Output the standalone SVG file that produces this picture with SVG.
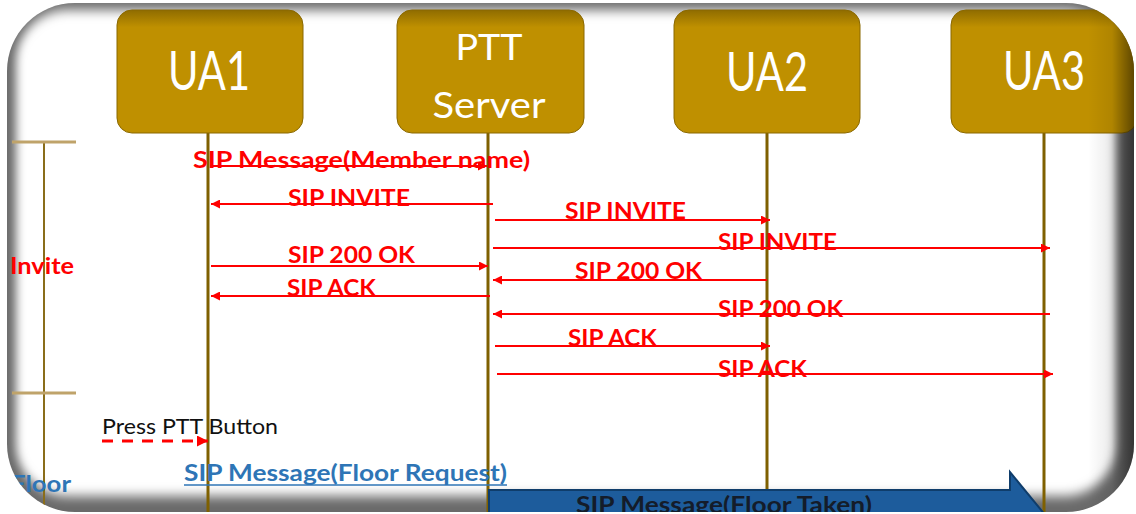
<svg xmlns="http://www.w3.org/2000/svg" width="1136" height="514" viewBox="0 0 1136 514">
  <style>
    .box { fill: url(#gold); stroke: #8a6800; stroke-width: 1; }
    .ntext { fill: #ffffff; font-family: Lato, "Open Sans", sans-serif; text-anchor: middle; }
    .life { stroke: #7f6000; stroke-width: 3; fill: none; }
    .msg { stroke: #ff0000; stroke-width: 2; fill: none; }
    .lbl { fill: #ff0000; font-family: Lato, "Open Sans", sans-serif; font-weight: bold; font-size: 23px; }
    .blue { fill: #2e75b6; font-family: Lato, "Open Sans", sans-serif; font-weight: bold; font-size: 23px; }
    .phase { stroke: #bfa36a; stroke-width: 3; }
    .phasev { stroke: #8a6d1a; stroke-width: 2; }
  </style>
  <defs>
    <clipPath id="frameClip">
      <rect x="7" y="3" width="1127" height="509" rx="68" ry="68"/>
    </clipPath>
    <filter id="soft" filterUnits="userSpaceOnUse" x="0" y="0" width="1136" height="514">
      <feGaussianBlur stdDeviation="5 6"/>
    </filter>
    <linearGradient id="gold" x1="0" y1="0" x2="0" y2="1">
      <stop offset="0" stop-color="#8f6c00"/>
      <stop offset="0.14" stop-color="#bf9000"/>
      <stop offset="1" stop-color="#bf9000"/>
    </linearGradient>
    <linearGradient id="rightShade" x1="0" y1="0" x2="1" y2="0">
      <stop offset="0" stop-color="#000" stop-opacity="0"/>
      <stop offset="0.5" stop-color="#000" stop-opacity="0.08"/>
      <stop offset="1" stop-color="#000" stop-opacity="0.55"/>
    </linearGradient>
    <marker id="ah" viewBox="0 0 10 10" refX="10" refY="5" markerWidth="9" markerHeight="9" markerUnits="userSpaceOnUse" orient="auto">
      <path d="M0,0 L10,5 L0,10 Z" fill="#ff0000"/>
    </marker>
    <marker id="ahd" viewBox="0 0 10 10" refX="10" refY="5" markerWidth="11" markerHeight="11" markerUnits="userSpaceOnUse" orient="auto">
      <path d="M0,0 L10,5 L0,10 Z" fill="#ff0000"/>
    </marker>
  </defs>

  <rect width="1136" height="514" fill="#ffffff"/>

  <g clip-path="url(#frameClip)">
    <!-- pillow-shaded panel -->
    <rect x="0" y="0" width="1136" height="514" fill="#6a6a6a"/>
    <rect x="16" y="10" width="1100" height="486" rx="52" fill="#ffffff" filter="url(#soft)"/>

    <!-- phase brackets -->
    <g id="phases">
      <line class="phasev" x1="44" y1="142" x2="44" y2="514"/>
      <line class="phase" x1="12" y1="142" x2="76" y2="142"/>
      <line class="phase" x1="12" y1="393" x2="76" y2="393"/>
      <text class="lbl" x="10" y="274" textLength="64" lengthAdjust="spacingAndGlyphs">Invite</text>
      <text class="blue" x="11" y="492" textLength="60" lengthAdjust="spacingAndGlyphs">Floor</text>
    </g>

    <!-- lifelines -->
    <g id="lifelines">
      <line class="life" x1="208" y1="133" x2="208" y2="514"/>
      <line class="life" x1="488" y1="133" x2="488" y2="514"/>
      <line class="life" x1="767" y1="133" x2="767" y2="514"/>
      <line class="life" x1="1044" y1="133" x2="1044" y2="514"/>
    </g>

    <!-- participants -->
    <g id="ua1">
      <rect class="box" x="117" y="10" width="186" height="123" rx="15"/>
      <text class="ntext" x="209" y="90" font-size="54" textLength="82" lengthAdjust="spacingAndGlyphs">UA1</text>
    </g>
    <g id="ptt-server">
      <rect class="box" x="397" y="10" width="187" height="123" rx="15"/>
      <text class="ntext" x="489" y="60" font-size="37" textLength="67" lengthAdjust="spacingAndGlyphs">PTT</text>
      <text class="ntext" x="489" y="118" font-size="37" textLength="113" lengthAdjust="spacingAndGlyphs">Server</text>
    </g>
    <g id="ua2">
      <rect class="box" x="674" y="10" width="186" height="123" rx="15"/>
      <text class="ntext" x="767" y="91" font-size="54" textLength="82" lengthAdjust="spacingAndGlyphs">UA2</text>
    </g>
    <g id="ua3">
      <rect class="box" x="951" y="10" width="186" height="123" rx="15"/>
      <text class="ntext" x="1044" y="90" font-size="54" textLength="82" lengthAdjust="spacingAndGlyphs">UA3</text>
    </g>

    <!-- signalling messages -->
    <g id="connectors">
      <line class="msg" x1="210" y1="166" x2="487" y2="166" marker-end="url(#ah)"/>
      <line class="msg" x1="493" y1="204" x2="211" y2="204" marker-end="url(#ah)"/>
      <line class="msg" x1="495" y1="220" x2="770" y2="220" marker-end="url(#ah)"/>
      <line class="msg" x1="493" y1="248" x2="1050" y2="248" marker-end="url(#ah)"/>
      <line class="msg" x1="211" y1="266" x2="488" y2="266" marker-end="url(#ah)"/>
      <line class="msg" x1="767" y1="280" x2="493" y2="280" marker-end="url(#ah)"/>
      <line class="msg" x1="490" y1="296" x2="211" y2="296" marker-end="url(#ah)"/>
      <line class="msg" x1="1050" y1="314" x2="493" y2="314" marker-end="url(#ah)"/>
      <line class="msg" x1="495" y1="346" x2="770" y2="346" marker-end="url(#ah)"/>
      <line class="msg" x1="497" y1="374" x2="1053" y2="374" marker-end="url(#ah)"/>
      <line x1="102" y1="441" x2="208" y2="441" stroke="#ff0000" stroke-width="3" stroke-dasharray="11 9" marker-end="url(#ahd)"/>
      <line x1="184" y1="485" x2="507" y2="485" stroke="#2e75b6" stroke-width="1.5"/>
      <path d="M489,490 L1010,490 L1010,472 L1055,527 L1010,582 L489,582 Z" fill="#1d5c9c" stroke="#0f3d6b" stroke-width="2"/>
    </g>

    <!-- message labels -->
    <g id="labels">
      <text class="lbl" x="193" y="168" textLength="337" lengthAdjust="spacingAndGlyphs">SIP Message(Member name)</text>
      <text class="lbl" x="288" y="206" textLength="122" lengthAdjust="spacingAndGlyphs">SIP INVITE</text>
      <text class="lbl" x="565" y="219" textLength="121" lengthAdjust="spacingAndGlyphs">SIP INVITE</text>
      <text class="lbl" x="718" y="250" textLength="119" lengthAdjust="spacingAndGlyphs">SIP INVITE</text>
      <text class="lbl" x="288" y="263" textLength="127" lengthAdjust="spacingAndGlyphs">SIP 200 OK</text>
      <text class="lbl" x="575" y="279" textLength="127" lengthAdjust="spacingAndGlyphs">SIP 200 OK</text>
      <text class="lbl" x="287" y="296" textLength="89" lengthAdjust="spacingAndGlyphs">SIP ACK</text>
      <text class="lbl" x="718" y="317" textLength="125" lengthAdjust="spacingAndGlyphs">SIP 200 OK</text>
      <text class="lbl" x="568" y="346" textLength="89" lengthAdjust="spacingAndGlyphs">SIP ACK</text>
      <text class="lbl" x="718" y="377" textLength="89" lengthAdjust="spacingAndGlyphs">SIP ACK</text>
      <text x="102" y="434" fill="#111111" font-family="Lato, 'Open Sans', sans-serif" font-size="22" textLength="176" lengthAdjust="spacingAndGlyphs">Press PTT Button</text>
      <text class="blue" x="184" y="481" textLength="323" lengthAdjust="spacingAndGlyphs">SIP Message(Floor Request)</text>
      <text x="576" y="513" fill="#141c2a" font-family="Lato, 'Open Sans', sans-serif" font-weight="bold" font-size="23" textLength="296" lengthAdjust="spacingAndGlyphs">SIP Message(Floor Taken)</text>
    </g>

    <!-- right-hand shading of the panel -->
    <rect x="1088" y="0" width="48" height="514" fill="url(#rightShade)"/>
  </g>
</svg>
